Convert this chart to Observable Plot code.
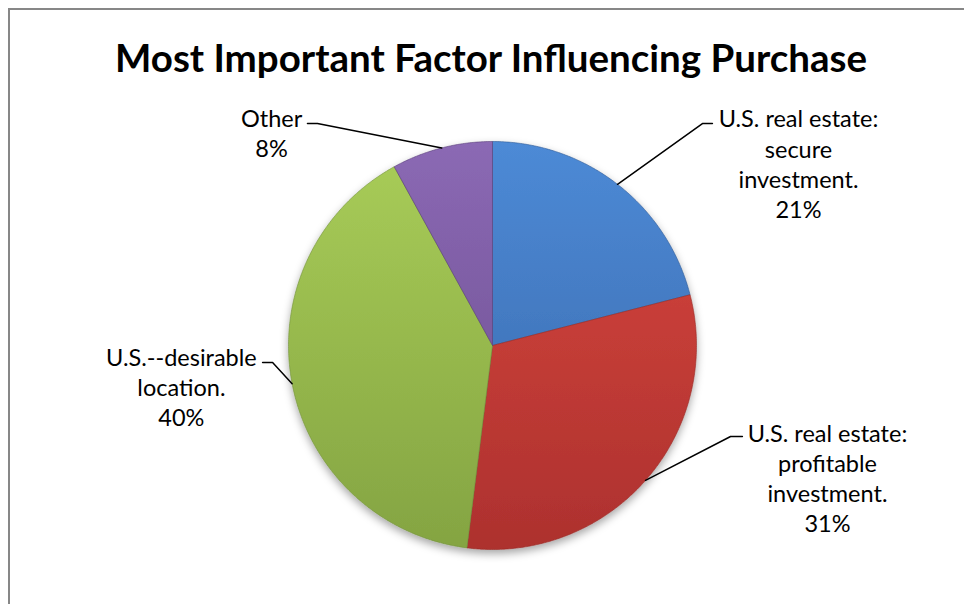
<!DOCTYPE html>
<html>
<head>
<meta charset="utf-8">
<script src="https://cdn.jsdelivr.net/npm/d3@7"></script>
<script src="https://cdn.jsdelivr.net/npm/@observablehq/plot@0.6"></script>
<style>
html, body { margin: 0; padding: 0; background: #fff; overflow: hidden; width: 964px; height: 604px; }
#frame { position: absolute; left: 8px; top: 8px; width: 1000px; height: 700px;
  border-left: 2px solid #878787; border-top: 2px solid #878787; }
#title { position: absolute; left: 0; top: 35px; width: 982px; text-align: center;
  font-family: Lato, "Open Sans", sans-serif; font-weight: bold; font-size: 38.5px; line-height: 44px; color: #000; }
#chart { position: absolute; left: 0; top: 90px; }
</style>
</head>
<body>
<div id="frame"></div>
<div id="title">Most Important Factor Influencing Purchase</div>
<div id="chart"></div>
<script>
// ---- data ----
const categories = ["U.S. real estate: secure investment.", "U.S. real estate: profitable investment.", "U.S.--desirable location.", "Other"];
const labelText = ["U.S. real estate:\nsecure\ninvestment.", "U.S. real estate:\nprofitable\ninvestment.", "U.S.--desirable\nlocation.", "Other"];
const values = [21, 31, 40, 8];
const topColors = ["#4d8ad6", "#d9473f", "#a9cd58", "#8b69b4"];
const bottomColors = ["#3766a8", "#ad312e", "#84a442", "#694b8c"];
const edgeColors = ["#2f5a94", "#962b28", "#71903a", "#5a4079"];

// ---- layout (in pie-radius units, y up) ----
const labelPos = [[1.50, 0.895], [1.642, -0.645], [-1.525, -0.201], [-1.083, 1.047]];
const leaderEnd = [[1.078, 1.088], [1.225, -0.446], [-1.127, -0.083], [-0.907, 1.088]];
const leaderElbow = [[1.029, 1.088], [1.167, -0.446], [-1.078, -0.083], [-0.858, 1.088]];

const W = 964, H = 514, CX = 492, CY = 255, R = 204;

const total = d3.sum(values);
let acc = 0;
const slices = values.map((v, i) => {
  const a0 = acc / total * 2 * Math.PI;
  acc += v;
  const a1 = acc / total * 2 * Math.PI;
  return {i, a0, a1, mid: (a0 + a1) / 2};
});

function slicePoints(s) {
  const pts = [{x: 0, y: 0}];
  const n = Math.max(2, Math.ceil((s.a1 - s.a0) / (Math.PI / 360)));
  for (let k = 0; k <= n; k++) {
    const t = s.a0 + (s.a1 - s.a0) * k / n;
    pts.push({x: Math.sin(t), y: Math.cos(t)});
  }
  pts.push({x: 0, y: 0});
  return pts;
}

const sliceMarks = slices.map(s => Plot.line(slicePoints(s), {
  x: "x", y: "y", fill: `url(#grad${s.i})`, stroke: edgeColors[s.i], strokeWidth: 1, strokeOpacity: 0.6, curve: "linear"
}));

const leaders = [];
slices.forEach(s => {
  leaders.push({id: s.i, x: Math.sin(s.mid), y: Math.cos(s.mid)});
  leaders.push({id: s.i, x: leaderElbow[s.i][0], y: leaderElbow[s.i][1]});
  leaders.push({id: s.i, x: leaderEnd[s.i][0], y: leaderEnd[s.i][1]});
});

const labels = slices.map(s => ({
  x: labelPos[s.i][0], y: labelPos[s.i][1],
  text: labelText[s.i] + "\n" + values[s.i] + "%"
}));

const chart = Plot.plot({
  width: W, height: H, margin: 0,
  x: {domain: [-CX / R, (W - CX) / R], range: [0, W], axis: null},
  y: {domain: [-(H - CY) / R, CY / R], range: [H, 0], axis: null},
  style: {background: "transparent", overflow: "visible"},
  marks: [
    ...sliceMarks,
    Plot.line(leaders, {x: "x", y: "y", z: "id", stroke: "#000", strokeWidth: 1.5, curve: "linear"}),
    Plot.text(labels, {x: "x", y: "y", text: "text", fontSize: 23.5, lineHeight: 1.28,
      fill: "#000", fontFamily: "Lato, 'Open Sans', sans-serif", textAnchor: "middle"})
  ]
});

// gradients + shadow
const yScale = chart.scale("y");
const yTop = yScale.apply(1), yBot = yScale.apply(-1);
const svg = d3.select(chart);
const defs = svg.insert("defs", ":first-child");
slices.forEach(s => {
  const g = defs.append("linearGradient").attr("id", `grad${s.i}`)
    .attr("gradientUnits", "userSpaceOnUse")
    .attr("x1", 0).attr("x2", 0).attr("y1", yTop).attr("y2", yBot);
  g.append("stop").attr("offset", "0%").attr("stop-color", topColors[s.i]);
  g.append("stop").attr("offset", "100%").attr("stop-color", bottomColors[s.i]);
});
const f = defs.append("filter").attr("id", "shadow").attr("x", "-20%").attr("y", "-20%").attr("width", "140%").attr("height", "140%");
f.append("feDropShadow").attr("dx", 0).attr("dy", 4).attr("stdDeviation", 4).attr("flood-color", "#000").attr("flood-opacity", 0.35);

const lineGroups = chart.querySelectorAll('g[aria-label="line"]');
const wrap = document.createElementNS("http://www.w3.org/2000/svg", "g");
wrap.setAttribute("filter", "url(#shadow)");
lineGroups[0].parentNode.insertBefore(wrap, lineGroups[0]);
for (let k = 0; k < slices.length; k++) wrap.appendChild(lineGroups[k]);

document.getElementById("chart").appendChild(chart);
</script>
</body>
</html>
